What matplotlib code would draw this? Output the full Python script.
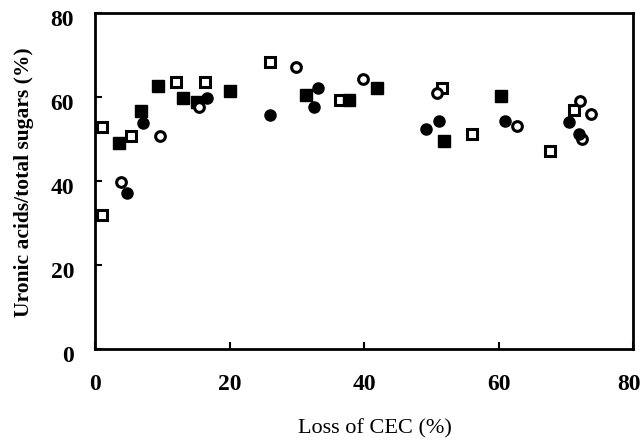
import matplotlib
matplotlib.use("Agg")
import matplotlib.pyplot as plt
import matplotlib.transforms as mtransforms

# Open squares
osq_x = [1.1, 1.1, 5.4, 12.1, 16.3, 26.0, 36.5, 51.6, 56.1, 67.6, 71.2]
osq_y = [52.9, 31.9, 50.7, 63.5, 63.5, 68.3, 59.4, 62.1, 51.2, 47.1, 56.9]
# Filled squares
fsq_x = [3.5, 6.9, 9.3, 13.1, 15.2, 20.0, 31.4, 37.7, 42.0, 51.9, 60.3]
fsq_y = [49.0, 56.7, 62.5, 59.8, 58.9, 61.5, 60.5, 59.4, 62.2, 49.5, 60.2]
# Open circles
ocir_x = [3.9, 9.6, 15.5, 29.9, 39.8, 50.8, 62.8, 72.1, 73.7, 72.4]
ocir_y = [39.8, 50.7, 57.5, 67.2, 64.3, 61.0, 53.2, 59.0, 55.9, 49.9]
# Filled circles
fcir_x = [4.8, 7.1, 16.6, 26.0, 33.1, 32.5, 51.1, 49.2, 61.0, 70.5, 72.0]
fcir_y = [37.1, 53.9, 59.7, 55.7, 62.2, 57.5, 54.4, 52.3, 54.3, 54.1, 51.1]

x_ticks = [0, 20, 40, 60, 80]
y_ticks = [0, 20, 40, 60, 80]

plt.rcParams['font.family'] = ['Liberation Serif', 'DejaVu Serif']

fig = plt.figure(figsize=(6.44, 4.40), dpi=100)
ax = fig.add_axes([95/644, 91/440, (633-95)/644, (349-13)/440])

ax.plot(osq_x, osq_y, linestyle='none', marker='s', markersize=7,
        markerfacecolor='white', markeredgecolor='black', markeredgewidth=2.2)
ax.plot(fsq_x, fsq_y, linestyle='none', marker='s', markersize=8,
        markerfacecolor='black', markeredgecolor='black')
ax.plot(ocir_x, ocir_y, linestyle='none', marker='o', markersize=7,
        markerfacecolor='white', markeredgecolor='black', markeredgewidth=2.2)
ax.plot(fcir_x, fcir_y, linestyle='none', marker='o', markersize=8,
        markerfacecolor='black', markeredgecolor='black')

ax.set_xlim(0, 80)
ax.set_ylim(0, 80)
ax.set_xticks(x_ticks)
ax.set_yticks(y_ticks)
ax.set_xticklabels([str(t) for t in x_ticks], fontsize=17, fontweight='bold')
ax.set_yticklabels([str(t) for t in y_ticks], fontsize=17, fontweight='bold')
ax.tick_params(direction='in', length=5, width=1.5)
ax.tick_params(axis='x', pad=18)
ax.tick_params(axis='y', pad=15)
offset = mtransforms.ScaledTranslation(0, -5/100, fig.dpi_scale_trans)
for lab in ax.get_yticklabels():
    lab.set_transform(lab.get_transform() + offset)
last = ax.get_xticklabels()[-1]
last.set_transform(last.get_transform() +
                   mtransforms.ScaledTranslation(-4/100, 0, fig.dpi_scale_trans))
for s in ax.spines.values():
    s.set_linewidth(2)

fig.text(375/644, 1 - 429/440, 'Loss of CEC (%)', fontsize=16,
         ha='center', va='center')
fig.text(24/644, 1 - 182/440, 'Uronic acids/total sugars (%)', fontsize=15.5,
         fontweight='bold', rotation=90, ha='center', va='center')

fig.savefig('out.png', dpi=100)
